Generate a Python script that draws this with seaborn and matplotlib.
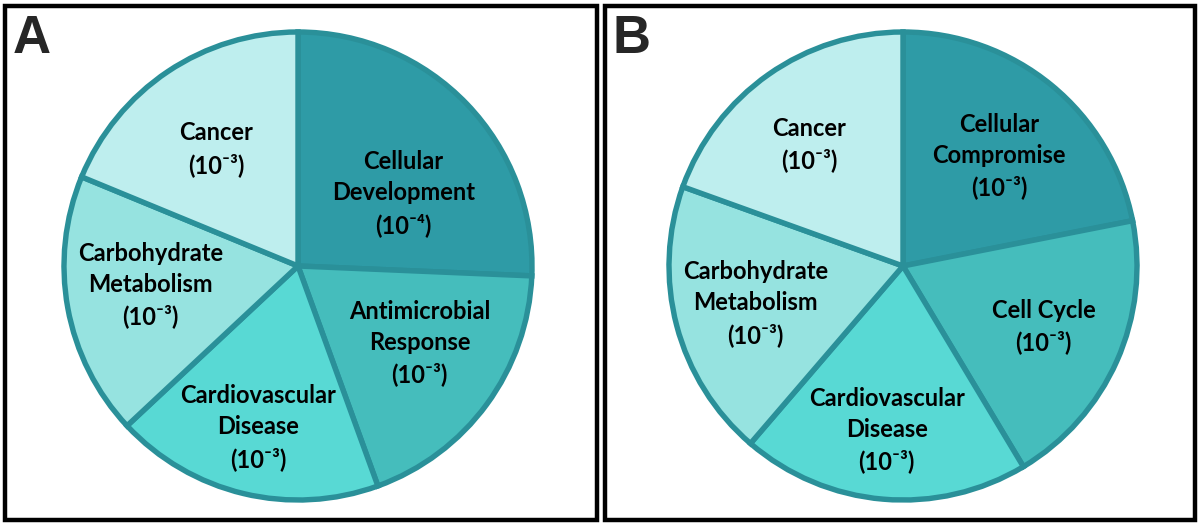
import matplotlib
matplotlib.use('Agg')
import matplotlib.pyplot as plt
import seaborn as sns
from matplotlib.patches import Rectangle

sns.set_theme(style='white')
plt.rcParams['font.family'] = ['Lato', 'DejaVu Sans']

# Panel A data (share of pie, clockwise from 12 o'clock)
labels_a = ['Cellular\nDevelopment', 'Antimicrobial\nResponse', 'Cardiovascular\nDisease',
            'Carbohydrate\nMetabolism', 'Cancer']
pvals_a = ['⁻⁴', '⁻³', '⁻³', '⁻³', '⁻³']
sizes_a = [25.7, 18.8, 18.6, 18.2, 18.8]

# Panel B data
labels_b = ['Cellular\nCompromise', 'Cell Cycle', 'Cardiovascular\nDisease',
            'Carbohydrate\nMetabolism', 'Cancer']
pvals_b = ['⁻³', '⁻³', '⁻³', '⁻³', '⁻³']
sizes_b = [21.9, 19.5, 19.9, 19.2, 19.5]

colors = ['#2E9BA6', '#45BDBC', '#58D9D4', '#96E3E0', '#BEEEEE']
edge = '#2A9099'

# label placement inside the pie (radius units)
pos_a = [(0.45, 0.31), (0.52, -0.33), (-0.17, -0.69), (-0.63, -0.08), (-0.35, 0.50)]
pos_b = [(0.41, 0.47), (0.60, -0.26), (-0.07, -0.70), (-0.63, -0.16), (-0.40, 0.52)]

W, H = 1200, 525
fig = plt.figure(figsize=(12, 5.25), dpi=100)


def draw_panel(cx, cy, sizes, labels, pvals, pos, letter, box):
    R = 234
    half = 245
    ax = fig.add_axes([(cx - half) / W, (H - cy - half) / H, 2 * half / W, 2 * half / H])
    ax.pie(sizes, colors=colors, startangle=90, counterclock=False,
           wedgeprops=dict(edgecolor=edge, linewidth=3.9))
    ax.set_xlim(-half / R, half / R)
    ax.set_ylim(-half / R, half / R)
    ax.set_aspect('equal')
    ax.axis('off')
    for lab, p, (x, y) in zip(labels, pvals, pos):
        ax.text(x, y, lab + '\n(10' + p + ')', ha='center', va='center',
                fontsize=17, fontweight='bold', color='black', linespacing=1.42)
    x0, x1 = box
    fig.patches.append(Rectangle((x0 / W, 5 / H), (x1 - x0) / W, 514 / H,
                                 transform=fig.transFigure, fill=False,
                                 edgecolor='black', linewidth=3.2))
    fig.text((x0 + 8) / W, (H - 14) / H, letter, ha='left', va='top',
             fontsize=38, fontweight='bold', family='Liberation Sans')


draw_panel(298, 266, sizes_a, labels_a, pvals_a, pos_a, 'A', (5, 597))
draw_panel(903, 266, sizes_b, labels_b, pvals_b, pos_b, 'B', (605, 1195))

fig.savefig('out.png', dpi=100, facecolor='white')
